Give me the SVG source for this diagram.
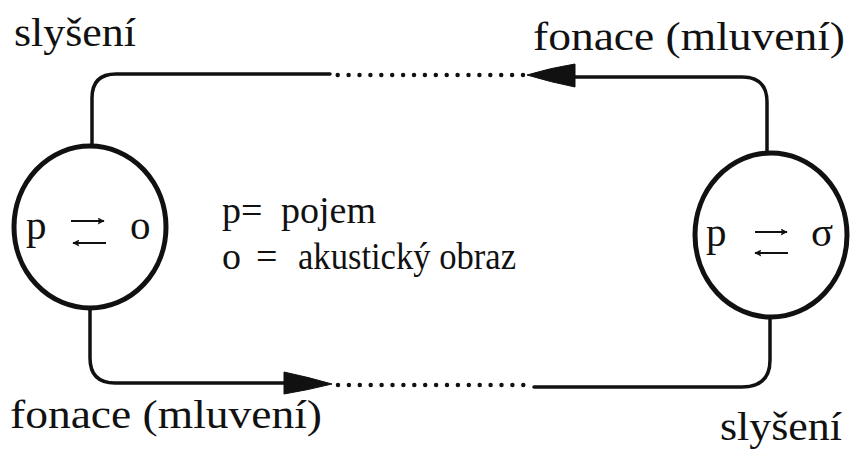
<svg xmlns="http://www.w3.org/2000/svg" width="852" height="452" viewBox="0 0 852 452">
<style>
  .lbl { font-family: "Liberation Serif", "Times New Roman", serif; font-size: 40px; fill: #111; }
  .ctr { font-family: "Liberation Serif", "Times New Roman", serif; font-size: 38px; fill: #111; }
  .in { font-family: "Liberation Serif", "Times New Roman", serif; font-size: 41px; fill: #111; }
  .ring { fill: none; stroke: #111; stroke-width: 5; }
  .wire { fill: none; stroke: #111; stroke-width: 3.5; stroke-linecap: round; }
  .dots { fill: none; stroke: #111; stroke-width: 4.5; stroke-linecap: round; stroke-dasharray: 0 10.9; }
  .head { fill: #111; stroke: #111; stroke-width: 1; stroke-linejoin: round; }
  .sm { fill: none; stroke: #111; stroke-width: 2; }
</style>
<defs>
  <marker id="tip" viewBox="0 0 10 10" refX="9" refY="5" markerWidth="9" markerHeight="7" orient="auto" markerUnits="userSpaceOnUse">
    <path d="M0,0 L10,5 L0,10 L2,5 Z" fill="#111"/>
  </marker>
</defs>
<rect width="852" height="452" fill="#fff"/>

<g id="connectors">
  <path class="wire" d="M767,153 V102 Q767,77 742,77 H575"/>
  <path class="head" d="M527,75 Q550,68 575,64 L575,87 Q550,82 527,75 Z"/>
  <path class="dots" d="M523,75 H335"/>
  <path class="wire" d="M330,74 H116 Q92,74 92,98 V146"/>
  <path class="wire" d="M90,308 V358 Q90,383 115,383 H284"/>
  <path class="head" d="M332,384 Q308,377 284,372 L284,394 Q308,390 332,384 Z"/>
  <path class="dots" d="M338,385 H524"/>
  <path class="wire" d="M534,387 H742 Q770,387 770,360 V317"/>
</g>

<g id="node-left">
  <ellipse class="ring" cx="90" cy="227" rx="76" ry="81"/>
  <text class="in" x="26" y="239">p</text>
  <line class="sm" x1="71" y1="221" x2="104" y2="221" marker-end="url(#tip)"/>
  <line class="sm" x1="106" y1="243" x2="73" y2="243" marker-end="url(#tip)"/>
  <text class="in" x="130" y="239">o</text>
</g>

<g id="node-right">
  <ellipse class="ring" cx="771" cy="235" rx="76" ry="82"/>
  <text class="in" x="706" y="246">p</text>
  <line class="sm" x1="755" y1="232" x2="787" y2="232" marker-end="url(#tip)"/>
  <line class="sm" x1="788" y1="253" x2="755" y2="253" marker-end="url(#tip)"/>
  <text class="in" x="811" y="246">σ</text>
</g>

<g id="legend">
  <text class="ctr" x="222" y="223">p=</text>
  <text class="ctr" x="281" y="223">pojem</text>
  <text class="ctr" x="222" y="269">o</text>
  <text class="ctr" x="256" y="269">=</text>
  <text class="ctr" x="298" y="269" textLength="218" lengthAdjust="spacingAndGlyphs">akustický obraz</text>
</g>

<g id="labels">
  <text class="lbl" x="14" y="46" textLength="122" lengthAdjust="spacingAndGlyphs">slyšení</text>
  <text class="lbl" x="533" y="50" textLength="312" lengthAdjust="spacingAndGlyphs">fonace (mluvení)</text>
  <text class="lbl" x="10" y="428" textLength="312" lengthAdjust="spacingAndGlyphs">fonace (mluvení)</text>
  <text class="lbl" x="720" y="440" textLength="122" lengthAdjust="spacingAndGlyphs">slyšení</text>
</g>
</svg>
